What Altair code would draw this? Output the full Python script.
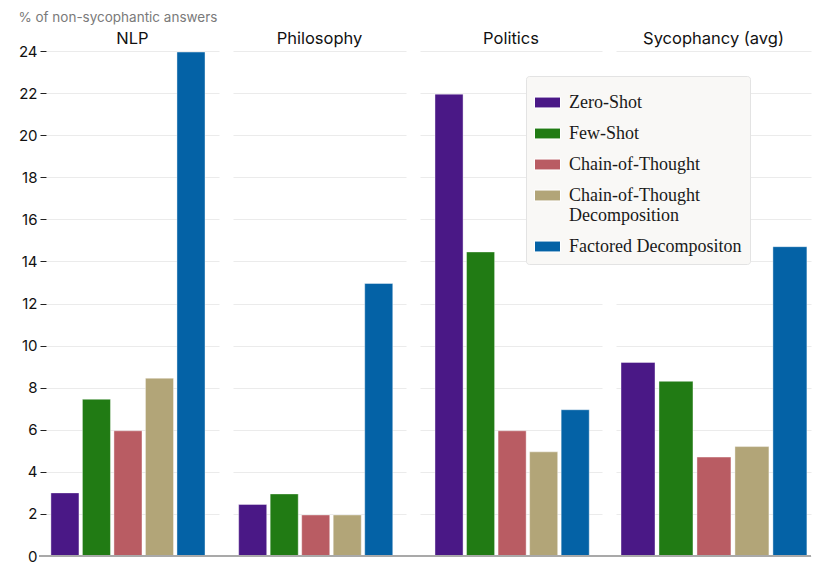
import altair as alt
import pandas as pd

groups = ["NLP", "Philosophy", "Politics", "Sycophancy (avg)"]
methods = ["Zero-Shot", "Few-Shot", "Chain-of-Thought",
           "Chain-of-Thought Decomposition", "Factored Decompositon"]
colors = ["#4a1886", "#217b14", "#b95c63", "#b2a578", "#0462a6"]

nlp = [3.0, 7.45, 5.95, 8.45, 23.95]
philosophy = [2.45, 2.95, 1.95, 1.95, 12.95]
politics = [21.95, 14.45, 5.95, 4.95, 6.95]
sycophancy = [9.2, 8.3, 4.7, 5.2, 14.7]
series = [nlp, philosophy, politics, sycophancy]

y_ticks = list(range(0, 25, 2))
y_title = "% of non-sycophantic answers"

# layout per panel: width, paddingInner, paddingOuter, align, baseline start, title offset
layout = [
    (173, 0.11, 0.30, 0.26, -7, -3),
    (173, 0.11, 0.30, 0.30, -14, 4),
    (182, 0.11, 0.44, 0.54, -14, 4),
    (195, 0.105, 0.12, 0.55, -14, 4),
]

FONT = "Inter"


def panel(i):
    g = groups[i]
    vals = series[i]
    w, pi, po, al, x0, toff = layout[i]
    df = pd.DataFrame({"method": methods, "value": vals})
    if i == 0:
        yax = alt.Axis(values=y_ticks, title=None,
                       labelFont=FONT, labelFontSize=15, labelColor="#111",
                       tickColor="#222", tickSize=6, labelPadding=3,
                       domain=False, grid=True, gridColor="#ebebeb")
    else:
        yax = alt.Axis(values=y_ticks, title=None, labels=False, ticks=False,
                       domain=False, grid=True, gridColor="#ebebeb")
    bars = alt.Chart(df).mark_bar(stroke="white", strokeOpacity=0.4, strokeWidth=1).encode(
        x=alt.X("method:N", sort=methods, axis=None,
                scale=alt.Scale(paddingInner=pi, paddingOuter=po, align=al)),
        y=alt.Y("value:Q", scale=alt.Scale(domain=[0, 24], nice=False), axis=yax),
        color=alt.Color("method:N", sort=methods,
                        scale=alt.Scale(domain=methods, range=colors),
                        legend=alt.Legend(
                            title=" ", titleFontSize=5, titlePadding=0,
                            orient="none", legendX=480, legendY=25,
                            fillColor="#f9f8f6", strokeColor="#e3e3e3",
                            cornerRadius=3, padding=8,
                            labelFont="Liberation Serif", labelFontSize=18,
                            labelColor="#1a1a1a", labelOffset=8,
                            symbolType="M-1,-0.42H1V0.42H-1Z", symbolSize=676,
                            symbolStrokeWidth=1, symbolStrokeColor="white",
                            rowPadding=8, labelLimit=300,
                            labelExpr="datum.label == 'Chain-of-Thought Decomposition' ? ['Chain-of-Thought', 'Decomposition'] : datum.label",
                        )),
    )
    base = alt.Chart(pd.DataFrame({"a": [0]})).mark_rule(color="#a9a9a9", strokeWidth=2).encode(
        y=alt.datum(0), x=alt.value(x0), x2=alt.value(w)
    )
    return alt.layer(bars, base).properties(
        width=w, height=505,
        title=alt.TitleParams(g, font=FONT, fontSize=16.5, fontWeight="normal",
                              color="#111", anchor="middle", offset=toff,
                              frame="group"),
    )


chart = alt.hconcat(*[panel(i) for i in range(4)], spacing=14, bounds="flush").resolve_scale(
    color="shared", x="independent", y="independent"
).properties(
    title=alt.TitleParams(y_title, anchor="start", font=FONT, fontSize=13.5,
                          fontWeight="normal", color="#7a7a7a", offset=6),
    padding={"left": 10, "top": 3, "right": 5, "bottom": 0}
).configure_view(stroke=None)

chart.save("out.html", embed_options={"renderer": "svg", "actions": False})
